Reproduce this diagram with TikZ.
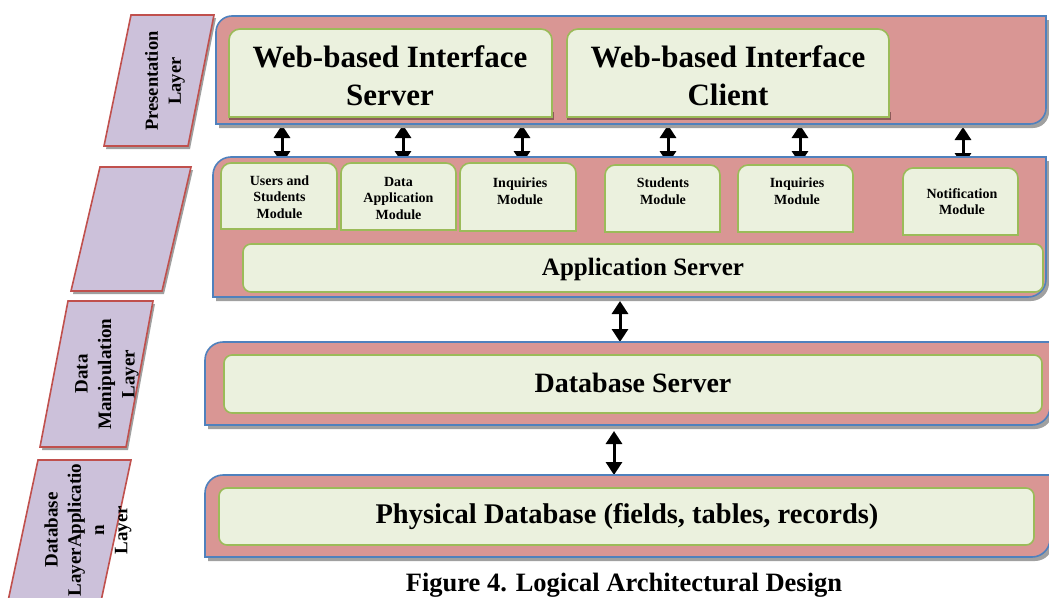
\documentclass[tikz,border=0pt]{standalone}
\usepackage{fontspec}
\setmainfont{Liberation Serif}
\usetikzlibrary{arrows.meta}
\definecolor{contfill}{HTML}{D99694}
\definecolor{contline}{HTML}{4F81BD}
\definecolor{innfill}{HTML}{EBF1DE}
\definecolor{innline}{HTML}{9BBB59}
\definecolor{layfill}{HTML}{CCC1DA}
\definecolor{layline}{HTML}{C0504D}
\definecolor{shad}{HTML}{A0A0A0}
\definecolor{wshad}{HTML}{8C5A5A}
\newcommand\fz[2]{\fontsize{#1pt}{#2pt}\selectfont\bfseries}
% round diagonal corner rectangle (top-left and bottom-right rounded)
\newcommand\diagrect[6]{\path[#1] ({#2},{#3+#6}) .. controls ({#2},{#3+0.45*#6}) and ({#2+0.45*#6},{#3}) .. ({#2+#6},{#3}) -- ({#4},{#3}) -- ({#4},{#5-#6}) .. controls ({#4},{#5-0.45*#6}) and ({#4-0.45*#6},{#5}) .. ({#4-#6},{#5}) -- ({#2},{#5}) -- cycle;}
% rectangle with rounded top corners
\newcommand\toprect[6]{\path[#1] ({#2},{#5}) -- ({#2},{#3+#6}) .. controls ({#2},{#3+0.45*#6}) and ({#2+0.45*#6},{#3}) .. ({#2+#6},{#3}) -- ({#4-#6},{#3}) .. controls ({#4-0.45*#6},{#3}) and ({#4},{#3+0.45*#6}) .. ({#4},{#3+#6}) -- ({#4},{#5}) -- cycle;}
\begin{document}
\begin{tikzpicture}[x=1pt,y=-1pt,
  cont/.style={fill=contfill,draw=contline,line width=1.6pt},
  contshadow/.style={fill=shad},
  inn/.style={fill=innfill,draw=innline,line width=1.6pt},
  lay/.style={fill=layfill,draw=layline,line width=1.6pt},
  txt/.style={inner sep=0pt,align=center,text=black},
  dbl/.style={line width=3pt,{Triangle[width=16pt,length=13pt]}-{Triangle[width=16pt,length=13pt]}}]
\useasboundingbox (0,0) rectangle (1049,597);
\clip (0,0) rectangle (1049,597);
\fill[white] (0,0) rectangle (1049,597);

% connectors (drawn beneath the layers)
\foreach \n/\x/\a/\b in {1/282/125/164,2/403/125/164,3/522/125/164,4/668/125/164,5/800/125/164,6/963/127/166}{
  \coordinate (u\n) at (\x,\a);
  \coordinate (d\n) at (\x,\b);
}
\coordinate (m1) at (620,301); \coordinate (m2) at (620,342);
\coordinate (l1) at (614,431); \coordinate (l2) at (614,475);
\foreach \n in {1,...,6}{\draw[dbl] (u\n) -- (d\n);}
\draw[dbl] (m1) -- (m2);
\draw[dbl] (l1) -- (l2);

% layer labels (parallelograms)
\fill[shad] (133,18) -- (216,18) -- (190,149) -- (106,149) -- cycle;
\path[lay] (131,15) -- (214,15) -- (188,146) -- (104,146) -- cycle;
\fill[shad] (102,170) -- (193,170) -- (164,294) -- (73,294) -- cycle;
\path[lay] (100,167) -- (191,167) -- (162,291) -- (71,291) -- cycle;
\fill[shad] (70,304) -- (155,304) -- (128,450) -- (42,450) -- cycle;
\path[lay] (68,301) -- (153,301) -- (126,447) -- (40,447) -- cycle;
\path[lay] (38,460) -- (131,460) -- (97,620) -- (4,620) -- cycle;

\node[txt,rotate=90,font=\fz{18.5}{23}] (labpres) at (165,81) {Presentation\\Layer};
\node[txt,rotate=90,font=\fz{19}{23.5}] (labdata) at (107,374) {Data\\Manipulation\\Layer};
\node[txt,rotate=90,font=\fz{19}{23.3}] (labdb) at (88,530) {Database\\LayerApplicatio\\n\\Layer};

% containers
\diagrect{contshadow}{219}{20}{1049}{128}{16}
\diagrect{cont}{216}{16}{1046}{124}{16}
\diagrect{contshadow}{216}{161}{1049}{301}{18}
\diagrect{cont}{213}{157}{1046}{297}{18}
\diagrect{contshadow}{208}{346}{1053}{429}{18}
\diagrect{cont}{205}{342}{1050}{425}{18}
\diagrect{contshadow}{208}{479}{1053}{561}{18}
\diagrect{cont}{205}{475}{1050}{557}{18}

% presentation layer boxes
\fill[wshad] (229,112) rectangle (554,120);
\toprect{inn}{229}{29}{552}{117}{11}
\fill[wshad] (567,112) rectangle (891,120);
\toprect{inn}{567}{29}{889}{117}{11}
\node[txt,font=\fz{31}{38}] (webserver) at (390,76) {Web-based Interface\\Server};
\node[txt,font=\fz{31}{38}] (webclient) at (728,76) {Web-based Interface\\Client};

% modules
\toprect{inn}{221}{163}{337}{229}{10}
\toprect{inn}{341}{163}{456}{230}{10}
\toprect{inn}{460}{163}{576}{231}{10}
\toprect{inn}{605}{165}{720}{232}{10}
\toprect{inn}{738}{165}{853}{232}{10}
\toprect{inn}{903}{168}{1018}{235}{10}
\node[txt,font=\fz{14}{16.5}] (musers) at (279.5,197) {Users and\\Students\\Module};
\node[txt,font=\fz{14}{16.5}] (mdata) at (398.5,198) {Data\\Application\\Module};
\node[txt,font=\fz{14}{16.5}] (minq1) at (520,191) {Inquiries\\Module};
\node[txt,font=\fz{14}{16.5}] (mstud) at (663,191) {Students\\Module};
\node[txt,font=\fz{14}{16.5}] (minq2) at (797,191) {Inquiries\\Module};
\node[txt,font=\fz{14}{16.5}] (mnotif) at (962,201.5) {Notification\\Module};

% server bars
\path[inn,rounded corners=8pt] (243,244) rectangle (1043,292);
\node[txt,font=\fz{25}{30}] (appserver) at (643,269) {Application Server};
\path[inn,rounded corners=8pt] (224,355) rectangle (1042,413);
\node[txt,font=\fz{28}{32}] (dbserver) at (633,383) {Database Server};
\path[inn,rounded corners=8pt] (219,488) rectangle (1034,545);
\node[txt,font=\fz{28.5}{32}] (physdb) at (627,517) {Physical Database (fields, tables, records)};

% caption
\node[txt,font=\fz{26.5}{30}] (caption) at (624,585) {Figure 4. Logical Architectural Design};
\end{tikzpicture}
\end{document}
